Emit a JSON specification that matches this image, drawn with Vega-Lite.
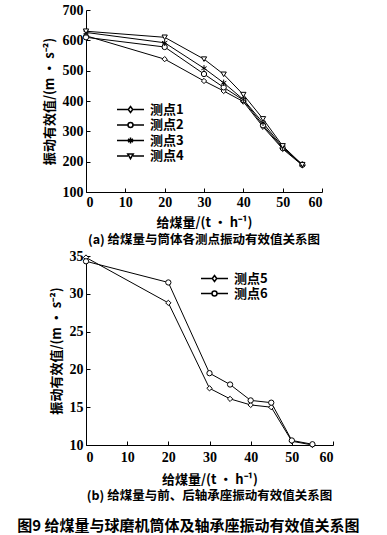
{
  "$schema": "https://vega.github.io/schema/vega-lite/v6.json",
  "padding": {"left": 15, "top": 3, "right": 5, "bottom": 2},
  "background": "white",
  "title": {
    "text": "图9  给煤量与球磨机筒体及轴承座振动有效值关系图",
    "orient": "bottom",
    "anchor": "middle",
    "font": "Noto Sans CJK SC",
    "fontSize": 15,
    "fontWeight": "bold",
    "color": "black",
    "offset": 16
  },
  "spacing": 2,
  "resolve": {"scale": {"shape": "independent", "x": "independent", "y": "independent"}, "legend": {"shape": "independent"}},
  "datasets": {
    "a": [
      {"feed": 0, "val": 615, "series": "测点1"},
      {"feed": 20, "val": 538, "series": "测点1"},
      {"feed": 30, "val": 466, "series": "测点1"},
      {"feed": 35, "val": 433, "series": "测点1"},
      {"feed": 40, "val": 398, "series": "测点1"},
      {"feed": 45, "val": 315, "series": "测点1"},
      {"feed": 50, "val": 242, "series": "测点1"},
      {"feed": 55, "val": 188, "series": "测点1"},
      {"feed": 0, "val": 610, "series": "测点2"},
      {"feed": 20, "val": 578, "series": "测点2"},
      {"feed": 30, "val": 489, "series": "测点2"},
      {"feed": 35, "val": 445, "series": "测点2"},
      {"feed": 40, "val": 403, "series": "测点2"},
      {"feed": 45, "val": 320, "series": "测点2"},
      {"feed": 50, "val": 245, "series": "测点2"},
      {"feed": 55, "val": 190, "series": "测点2"},
      {"feed": 0, "val": 626, "series": "测点3"},
      {"feed": 20, "val": 592, "series": "测点3"},
      {"feed": 30, "val": 508, "series": "测点3"},
      {"feed": 35, "val": 460, "series": "测点3"},
      {"feed": 40, "val": 405, "series": "测点3"},
      {"feed": 45, "val": 328, "series": "测点3"},
      {"feed": 50, "val": 248, "series": "测点3"},
      {"feed": 55, "val": 190, "series": "测点3"},
      {"feed": 0, "val": 630, "series": "测点4"},
      {"feed": 20, "val": 610, "series": "测点4"},
      {"feed": 30, "val": 538, "series": "测点4"},
      {"feed": 35, "val": 488, "series": "测点4"},
      {"feed": 40, "val": 421, "series": "测点4"},
      {"feed": 45, "val": 341, "series": "测点4"},
      {"feed": 50, "val": 252, "series": "测点4"},
      {"feed": 55, "val": 190, "series": "测点4"}
    ],
    "b": [
      {"feed": 0, "val": 34.8, "series": "测点5"},
      {"feed": 20, "val": 28.8, "series": "测点5"},
      {"feed": 30, "val": 17.5, "series": "测点5"},
      {"feed": 35, "val": 16.1, "series": "测点5"},
      {"feed": 40, "val": 15.3, "series": "测点5"},
      {"feed": 45, "val": 15.0, "series": "测点5"},
      {"feed": 50, "val": 10.5, "series": "测点5"},
      {"feed": 55, "val": 10.0, "series": "测点5"},
      {"feed": 0, "val": 34.3, "series": "测点6"},
      {"feed": 20, "val": 31.5, "series": "测点6"},
      {"feed": 30, "val": 19.5, "series": "测点6"},
      {"feed": 35, "val": 18.0, "series": "测点6"},
      {"feed": 40, "val": 15.9, "series": "测点6"},
      {"feed": 45, "val": 15.6, "series": "测点6"},
      {"feed": 50, "val": 10.6, "series": "测点6"},
      {"feed": 55, "val": 10.1, "series": "测点6"}
    ]
  },
  "vconcat": [
    {
      "width": 236,
      "height": 182,
      "data": {"name": "a"},
      "title": {
        "text": "(a) 给煤量与筒体各测点振动有效值关系图",
        "orient": "bottom",
        "anchor": "middle",
        "font": "Noto Sans CJK SC",
        "fontSize": 12.5,
        "fontWeight": "bold",
        "color": "black",
        "offset": 5
      },
      "encoding": {
        "x": {"field": "feed", "type": "quantitative", "scale": {"domain": [0, 60], "nice": false}, "axis": {"values": [0, 10, 20, 30, 40, 50, 60], "title": "给煤量/(t · h⁻¹)"}},
        "y": {"field": "val", "type": "quantitative", "scale": {"domain": [100, 700], "nice": false, "zero": false}, "axis": {"values": [100, 200, 300, 400, 500, 600, 700], "title": "振动有效值/(m · s⁻²)"}}
      },
      "resolve": {"scale": {"shape": "independent"}, "legend": {"shape": "independent"}},
      "layer": [
        {"mark": {"type": "line", "color": "black", "strokeWidth": 1}, "encoding": {"detail": {"field": "series"}}},
        {
          "mark": {"type": "point", "filled": false, "fill": "white", "stroke": "black", "strokeWidth": 1, "size": 28, "opacity": 1},
          "encoding": {
            "shape": {
              "field": "series",
              "type": "nominal",
              "scale": {"domain": ["测点1", "测点2", "测点3", "测点4"], "range": ["diamond", "circle", "M0,-1.2V1.2M-1,-0.6L1,0.6M-1,0.6L1,-0.6", "triangle-down"]},
              "legend": null
            }
          }
        },
        {
          "mark": {"type": "point", "filled": false, "fill": "white", "stroke": "black", "strokeWidth": 1, "size": 25, "opacity": 0},
          "encoding": {
            "shape": {
              "field": "series",
              "type": "nominal",
              "scale": {"domain": ["测点1", "测点2", "测点3", "测点4"], "range": ["M-5.4,0H-0.9M0.9,0H5.4M0,-1.2L0.9,0L0,1.2L-0.9,0Z", "M-5.4,0H-1M1,0H5.4M-1,0A1,1,0,1,0,1,0A1,1,0,1,0,-1,0Z", "M-5.4,0H5.4M0,-1.2V1.2M-1,-0.6L1,0.6M-1,0.6L1,-0.6", "M-5.4,0H-1M1,0H5.4M-1.1,-0.8L1.1,-0.8L0,1.1Z"]},
              "legend": {
                "orient": "none",
                "legendX": 38,
                "legendY": 93,
                "title": null,
                "padding": 0,
                "symbolSize": 25,
                "labelOffset": 13,
                "rowPadding": 1.5,
                "labelFont": "Noto Sans CJK SC",
                "labelFontSize": 13,
                "labelFontWeight": "bold",
                "labelColor": "black",
                "encode": {
                  "symbols": {
                    "update": {
                      "stroke": {"value": "black"},
                      "fill": {"value": "white"},
                      "strokeWidth": {"value": 1},
                      "opacity": {"value": 1},
                      "fillOpacity": {"value": 1},
                      "strokeOpacity": {"value": 1}
                    }
                  }
                }
              }
            }
          }
        }
      ]
    },
    {
      "width": 247,
      "height": 189,
      "data": {"name": "b"},
      "title": {
        "text": "(b) 给煤量与前、后轴承座振动有效值关系图",
        "orient": "bottom",
        "anchor": "middle",
        "font": "Noto Sans CJK SC",
        "fontSize": 12.5,
        "fontWeight": "bold",
        "color": "black",
        "offset": 4
      },
      "encoding": {
        "x": {"field": "feed", "type": "quantitative", "scale": {"domain": [0, 60], "nice": false}, "axis": {"values": [0, 10, 20, 30, 40, 50, 60], "title": "给煤量/(t · h⁻¹)", "labelPadding": 9, "titlePadding": 9}},
        "y": {"field": "val", "type": "quantitative", "scale": {"domain": [10, 35], "nice": false, "zero": false}, "axis": {"values": [10, 15, 20, 25, 30, 35], "title": "振动有效值/(m · s⁻²)"}}
      },
      "resolve": {"scale": {"shape": "independent"}, "legend": {"shape": "independent"}},
      "layer": [
        {"mark": {"type": "line", "color": "black", "strokeWidth": 1}, "encoding": {"detail": {"field": "series"}}},
        {
          "mark": {"type": "point", "filled": false, "fill": "white", "stroke": "black", "strokeWidth": 1, "size": 28, "opacity": 1},
          "encoding": {
            "shape": {
              "field": "series",
              "type": "nominal",
              "scale": {"domain": ["测点5", "测点6"], "range": ["diamond", "circle"]},
              "legend": null
            }
          }
        },
        {
          "mark": {"type": "point", "filled": false, "fill": "white", "stroke": "black", "strokeWidth": 1, "size": 25, "opacity": 0},
          "encoding": {
            "shape": {
              "field": "series",
              "type": "nominal",
              "scale": {"domain": ["测点5", "测点6"], "range": ["M-5.4,0H-0.9M0.9,0H5.4M0,-1.2L0.9,0L0,1.2L-0.9,0Z", "M-5.4,0H-1M1,0H5.4M-1,0A1,1,0,1,0,1,0A1,1,0,1,0,-1,0Z"]},
              "legend": {
                "orient": "none",
                "legendX": 122,
                "legendY": 16,
                "title": null,
                "padding": 0,
                "symbolSize": 25,
                "labelOffset": 13,
                "rowPadding": 1,
                "labelFont": "Noto Sans CJK SC",
                "labelFontSize": 13,
                "labelFontWeight": "bold",
                "labelColor": "black",
                "encode": {
                  "symbols": {
                    "update": {
                      "stroke": {"value": "black"},
                      "fill": {"value": "white"},
                      "strokeWidth": {"value": 1},
                      "opacity": {"value": 1},
                      "fillOpacity": {"value": 1},
                      "strokeOpacity": {"value": 1}
                    }
                  }
                }
              }
            }
          }
        }
      ]
    }
  ],
  "config": {
    "view": {"stroke": null},
    "axis": {
      "domainColor": "black",
      "domainWidth": 1,
      "tickColor": "black",
      "tickWidth": 1,
      "tickSize": -4,
      "grid": false,
      "labelFont": "Liberation Serif",
      "labelFontSize": 14,
      "labelFontWeight": "bold",
      "labelColor": "black",
      "titleFont": "Noto Sans CJK SC",
      "titleFontSize": 13,
      "titleFontWeight": "bold",
      "titleColor": "black"
    },
    "axisX": {"labelPadding": 7, "titlePadding": 7},
    "axisY": {"labelPadding": 7, "titlePadding": 6, "labelAngle": 0}
  }
}
